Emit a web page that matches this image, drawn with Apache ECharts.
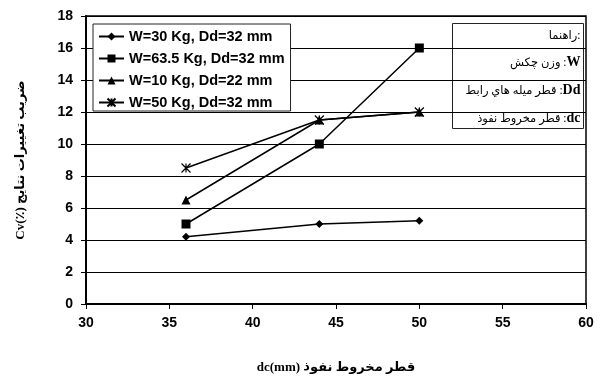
<!DOCTYPE html>
<html>
<head>
<meta charset="utf-8">
<script src="https://cdn.jsdelivr.net/npm/echarts@6/dist/echarts.min.js"></script>
<style>
    html, body {margin: 0; padding: 0; background: #fff;}
    #chart {width: 601px; height: 380px;}
</style>
</head>
<body>
<div id="chart"></div>
<script>
// قطر مخروط نفوذ dc (mm)
var dc = [36, 44, 50];
var seriesNames = ['W=30 Kg, Dd=32 mm', 'W=63.5 Kg, Dd=32 mm', 'W=10 Kg, Dd=22 mm', 'W=50 Kg, Dd=32 mm'];
var cv30 = [4.2, 5.0, 5.2];
var cv635 = [5.0, 10.0, 16.0];
var cv10 = [6.5, 11.5, 12.0];
var cv50 = [8.5, 11.5, 12.0];
var yTicks = [0, 2, 4, 6, 8, 10, 12, 14, 16, 18];
var xTicks = [30, 35, 40, 45, 50, 55, 60];

var starPath = 'path://M0,0L10,10M10,0L0,10M5,0L5,10';
var symbols = ['diamond', 'rect', 'triangle', starPath];
var sizes = [8, 9, 9, 9];
var values = [cv30, cv635, cv10, cv50];

var chart = echarts.init(document.getElementById('chart'), null, {renderer: 'canvas'});

var series = [];
for (var i = 0; i < values.length; i++) {
    var pts = [];
    for (var j = 0; j < dc.length; j++) {
        pts.push([dc[j], values[i][j]]);
    }
    series.push({
        name: seriesNames[i],
        type: 'line',
        data: pts,
        symbol: symbols[i],
        symbolSize: sizes[i],
        lineStyle: {color: '#000', width: 1.5},
        itemStyle: {color: '#000', borderColor: '#000', borderWidth: i == 3 ? 1.2 : 0},
        emphasis: {disabled: true}
    });
}

var arabicStyle = {fontFamily: 'Liberation Serif, DejaVu Sans', fontSize: 11.5, fill: '#000'};
var latinStyle = {fontFamily: 'Liberation Serif', fontWeight: 'bold', fontSize: 14, fill: '#000'};

var option = {
    animation: false,
    grid: {
        left: 86, right: 15, top: 16, bottom: 76,
        show: true, borderColor: '#000', borderWidth: 1.5
    },
    legend: {
        left: 93, top: 24,
        orient: 'vertical',
        data: seriesNames,
        itemWidth: 25, itemHeight: 10, itemGap: 7,
        padding: [5, 6, 1, 5],
        borderColor: '#222', borderWidth: 1,
        backgroundColor: '#fff',
        textStyle: {fontFamily: 'Liberation Sans', fontWeight: 'bold', fontSize: 14.5, color: '#000'}
    },
    xAxis: {
        type: 'value', min: 30, max: 60, interval: 5,
        name: 'dc(mm) قطر مخروط نفوذ',
        nameLocation: 'middle', nameGap: 57,
        nameTextStyle: {fontFamily: 'Liberation Serif, DejaVu Sans', fontWeight: 'bold', fontSize: 13, color: '#000'},
        axisLine: {lineStyle: {color: '#000', width: 2}},
        axisTick: {length: 5, lineStyle: {color: '#000'}},
        axisLabel: {margin: 12, fontFamily: 'Liberation Sans', fontWeight: 'bold', fontSize: 14, color: '#000'},
        splitLine: {show: false}
    },
    yAxis: {
        type: 'value', min: 0, max: 18, interval: 2,
        name: 'Cv(٪) ضريب تغييرات نتايج',
        nameLocation: 'middle', nameGap: 59,
        nameTextStyle: {fontFamily: 'Liberation Serif, DejaVu Sans', fontWeight: 'bold', fontSize: 13, color: '#000'},
        axisLine: {show: true, lineStyle: {color: '#000', width: 2}},
        axisTick: {show: true, length: 5, lineStyle: {color: '#000'}},
        axisLabel: {margin: 13, fontFamily: 'Liberation Sans', fontWeight: 'bold', fontSize: 14, color: '#000'},
        splitLine: {lineStyle: {color: '#000', width: 1}}
    },
    graphic: [{
        type: 'group',
        left: 452, top: 23,
        children: [{
            type: 'rect',
            shape: {x: 0, y: 0, width: 131, height: 105},
            style: {fill: '#fff', stroke: '#222', lineWidth: 1}
        }, {
            type: 'text', x: 128, y: 12,
            style: {text: 'راهنما:', align: 'right', verticalAlign: 'middle', font: '11.5px "Liberation Serif", "DejaVu Sans"', fill: '#000'}
        }, {
            type: 'text', x: 128, y: 39,
            style: {text: '{a|وزن چكش :}{b|W}', align: 'right', verticalAlign: 'middle', rich: {a: arabicStyle, b: latinStyle}}
        }, {
            type: 'text', x: 128, y: 67,
            style: {text: '{a|قطر ميله هاي رابط :}{b|Dd}', align: 'right', verticalAlign: 'middle', rich: {a: arabicStyle, b: latinStyle}}
        }, {
            type: 'text', x: 128, y: 95,
            style: {text: '{a|قطر مخروط نفوذ :}{b|dc}', align: 'right', verticalAlign: 'middle', rich: {a: arabicStyle, b: latinStyle}}
        }]
    }],
    series: series
};

chart.setOption(option);
</script>
</body>
</html>
